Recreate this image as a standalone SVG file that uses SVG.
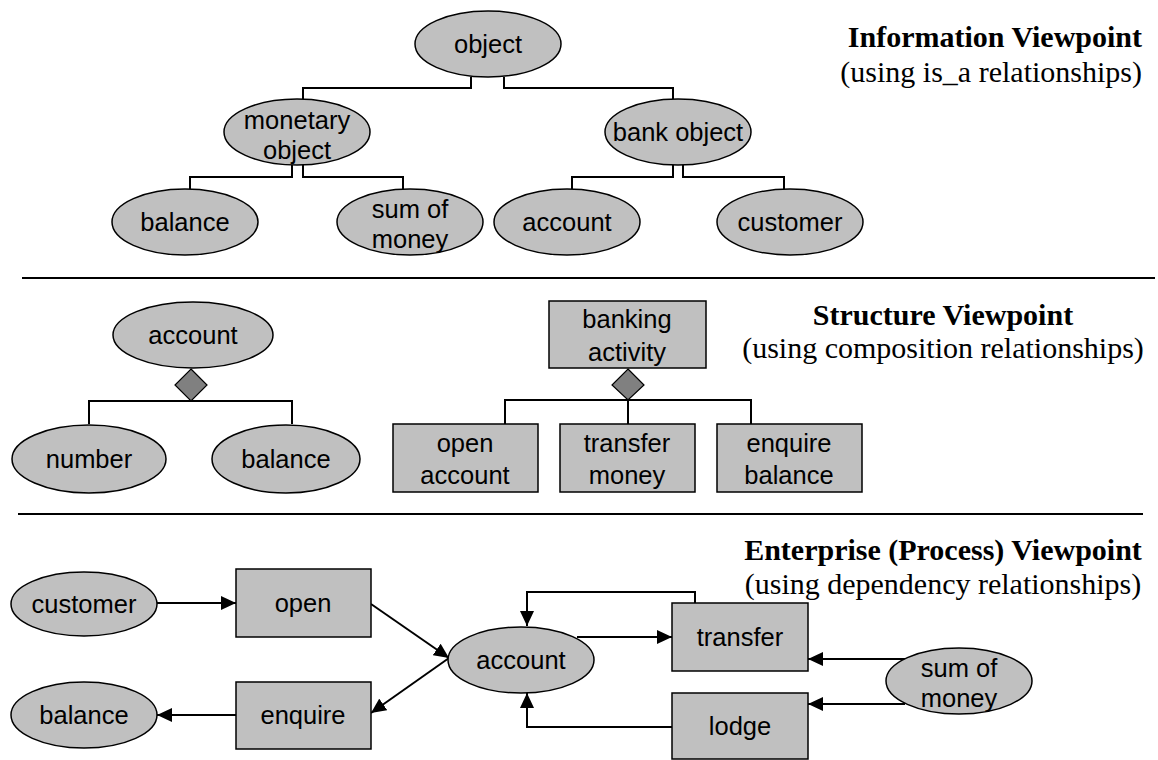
<svg xmlns="http://www.w3.org/2000/svg" width="1158" height="760" viewBox="0 0 1158 760">
<style>
.n{fill:#c0c0c0;stroke:#000;stroke-width:1.5}
.d{fill:#808080;stroke:#000;stroke-width:1.2}
.t{font-family:"Liberation Sans",Arial,sans-serif;font-size:25.5px;fill:#000;text-anchor:middle}
.h{font-family:"Liberation Serif","Times New Roman",serif;font-size:30px;fill:#000}
.hb{font-weight:bold}
.c{fill:none;stroke:#000;stroke-width:2}
.a{fill:none;stroke:#000;stroke-width:2;marker-end:url(#arr)}
.sep{stroke:#000;stroke-width:2}
</style>
<defs>
<marker id="arr" viewBox="0 0 15 14" refX="15" refY="7" markerWidth="15" markerHeight="14" markerUnits="userSpaceOnUse" orient="auto">
<path d="M0,0 L15,7 L0,14 Z" fill="#000"/>
</marker>
</defs>
<rect width="1158" height="760" fill="#fff"/>

<g id="titles">
<text class="h hb" x="1142" y="47" text-anchor="end">Information Viewpoint</text>
<text class="h" x="1142" y="82" text-anchor="end">(using is_a relationships)</text>
<text class="h hb" x="943" y="325" text-anchor="middle">Structure Viewpoint</text>
<text class="h" x="943" y="358" text-anchor="middle">(using composition relationships)</text>
<text class="h hb" x="943" y="560" text-anchor="middle">Enterprise (Process) Viewpoint</text>
<text class="h" x="943" y="594" text-anchor="middle">(using dependency relationships)</text>
</g>

<g id="separators">
<line class="sep" x1="22" y1="278" x2="1155" y2="278"/>
<line class="sep" x1="18" y1="514" x2="1143" y2="514"/>
</g>

<g id="connectors">
<polyline class="c" points="471,77 471,88 303,88 303,99"/>
<polyline class="c" points="504,77 504,88 673,88 673,99"/>
<polyline class="c" points="292,165 292,177 190,177 190,189"/>
<polyline class="c" points="303,165 303,177 403,177 403,189"/>
<polyline class="c" points="673,165 673,177 572,177 572,189"/>
<polyline class="c" points="683,165 683,177 784,177 784,189"/>
<polyline class="c" points="89,424 89,401 292,401 292,424"/>
<polyline class="c" points="505,424 505,400 751,400 751,424"/>
<line class="c" x1="628" y1="400" x2="628" y2="424"/>
<line class="a" x1="157" y1="603" x2="236" y2="603"/>
<line class="a" x1="236" y1="715" x2="157" y2="715"/>
<line class="a" x1="371" y1="604" x2="449" y2="658"/>
<line class="a" x1="449" y1="658" x2="371" y2="713"/>
<line class="a" x1="577" y1="637" x2="672" y2="637"/>
<polyline class="a" points="695,603 695,592 527,592 527,626"/>
<polyline class="a" points="672,727 527,727 527,693"/>
<line class="a" x1="905" y1="659" x2="808" y2="659"/>
<line class="a" x1="905" y1="704" x2="808" y2="704"/>
</g>

<g id="n-object"><ellipse class="n" cx="488" cy="44" rx="73" ry="33"/><text class="t" x="488" y="53">object</text></g>
<g id="n-monetary"><ellipse class="n" cx="297" cy="132" rx="73" ry="33"/><text class="t" x="297" y="129">monetary</text><text class="t" x="297" y="159">object</text></g>
<g id="n-bankobject"><ellipse class="n" cx="678" cy="132" rx="73" ry="33"/><text class="t" x="678" y="141">bank object</text></g>
<g id="n-balance1"><ellipse class="n" cx="185" cy="222" rx="73" ry="33"/><text class="t" x="185" y="231">balance</text></g>
<g id="n-sum1"><ellipse class="n" cx="410" cy="222" rx="73" ry="33"/><text class="t" x="410" y="218">sum of</text><text class="t" x="410" y="248">money</text></g>
<g id="n-account1"><ellipse class="n" cx="567" cy="222" rx="73" ry="33"/><text class="t" x="567" y="231">account</text></g>
<g id="n-customer1"><ellipse class="n" cx="790" cy="222" rx="73" ry="33"/><text class="t" x="790" y="231">customer</text></g>

<g id="n-account2"><ellipse class="n" cx="193" cy="335" rx="80" ry="33"/><text class="t" x="193" y="344">account</text><polygon class="d" points="191,369 207,385 191,401 175,385"/></g>
<g id="n-number"><ellipse class="n" cx="89" cy="459" rx="77" ry="34"/><text class="t" x="89" y="468">number</text></g>
<g id="n-balance2"><ellipse class="n" cx="286" cy="459" rx="74" ry="34"/><text class="t" x="286" y="468">balance</text></g>
<g id="n-banking"><rect class="n" x="549" y="301" width="157" height="67"/><text class="t" x="627" y="328">banking</text><text class="t" x="627" y="361">activity</text><polygon class="d" points="628,369 644,385 628,400 612,385"/></g>
<g id="n-openacc"><rect class="n" x="393" y="424" width="145" height="68"/><text class="t" x="465" y="452">open</text><text class="t" x="465" y="484">account</text></g>
<g id="n-transfermoney"><rect class="n" x="560" y="424" width="135" height="68"/><text class="t" x="627" y="452">transfer</text><text class="t" x="627" y="484">money</text></g>
<g id="n-enquirebal"><rect class="n" x="717" y="424" width="145" height="68"/><text class="t" x="789" y="452">enquire</text><text class="t" x="789" y="484">balance</text></g>

<g id="n-customer3"><ellipse class="n" cx="84" cy="604" rx="73" ry="32"/><text class="t" x="84" y="613">customer</text></g>
<g id="n-open"><rect class="n" x="236" y="569" width="135" height="68"/><text class="t" x="303" y="612">open</text></g>
<g id="n-balance3"><ellipse class="n" cx="84" cy="715" rx="73" ry="33"/><text class="t" x="84" y="724">balance</text></g>
<g id="n-enquire"><rect class="n" x="236" y="682" width="135" height="67"/><text class="t" x="303" y="724">enquire</text></g>
<g id="n-account3"><ellipse class="n" cx="521" cy="660" rx="73" ry="33"/><text class="t" x="521" y="669">account</text></g>
<g id="n-transfer"><rect class="n" x="672" y="603" width="136" height="68"/><text class="t" x="740" y="646">transfer</text></g>
<g id="n-lodge"><rect class="n" x="672" y="693" width="136" height="66"/><text class="t" x="740" y="735">lodge</text></g>
<g id="n-sum3"><ellipse class="n" cx="959" cy="681" rx="73" ry="33"/><text class="t" x="959" y="677">sum of</text><text class="t" x="959" y="707">money</text></g>
</svg>
